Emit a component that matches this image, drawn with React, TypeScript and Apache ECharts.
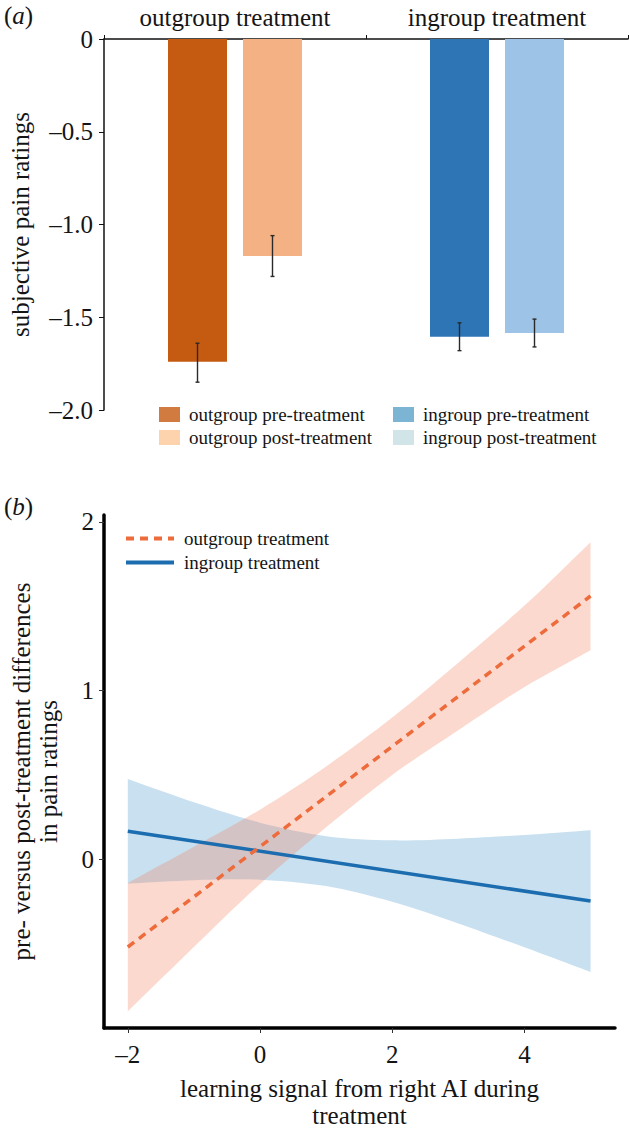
import React, { useEffect, useRef } from 'react';
import * as echarts from 'echarts';

// ---------- panel (a) data ----------
const groups = ['outgroup treatment', 'ingroup treatment'];
const preMeans = [-1.74, -1.605];
const postMeans = [-1.17, -1.585];
const preErrLow = [-1.85, -1.68];
const preErrHigh = [-1.64, -1.53];
const postErrLow = [-1.28, -1.66];
const postErrHigh = [-1.06, -1.51];
const legendNamesA = ['outgroup pre-treatment', 'outgroup post-treatment', 'ingroup pre-treatment', 'ingroup post-treatment'];

// ---------- panel (b) data ----------
const lineNames = ['outgroup treatment', 'ingroup treatment'];
const lineX = [-2, 5];
const outLineY = [-0.52, 1.56];
const inLineY = [0.166, -0.248];
const bandX = [-2, -1, 0, 1, 2, 3, 4, 5];
const outUpper = [-0.14, 0.074, 0.294, 0.55, 0.84, 1.165, 1.503, 1.879];
const outLower = [-0.9, -0.52, -0.146, 0.19, 0.5, 0.765, 1.021, 1.239];
const inUpper = [0.476, 0.338, 0.217, 0.137, 0.112, 0.122, 0.144, 0.172];
const inLower = [-0.144, -0.124, -0.121, -0.159, -0.252, -0.38, -0.522, -0.668];
const xTicksB = [-2, 0, 2, 4];
const yTicksB = [0, 1, 2];

const F = 'Liberation Serif, serif';
const TXT = '#141414';
const BAR_W = 59;
const BAR_GAP = 16;
const BAR_OFFSET = (BAR_W + BAR_GAP) / 2;
const preColors = ['#c55a11', '#2e75b6'];
const postColors = ['#f4b183', '#9dc3e6'];
const legendColorsA = ['#c55a11', '#fbc898', '#5aa2c8', '#c5dfe4'];
const ORANGE = '#ee6b3b';
const BLUE = '#1c6db0';

const minus = (v: number, digits: number) => {
  if (v === 0) return '0';
  const s = Math.abs(v).toFixed(digits);
  return v < 0 ? '\u2013' + s : s;
};

function bandSeries(lower: number[], upper: number[], color: string, name: string): any {
  return {
    name,
    type: 'custom',
    xAxisIndex: 1,
    yAxisIndex: 1,
    silent: true,
    clip: true,
    z: 2,
    data: bandX.map((x, i) => [x, lower[i], upper[i]]),
    encode: { x: 0, y: [1, 2] },
    renderItem: (params: any, api: any) => {
      if (params.dataIndex !== 0) return { type: 'group', children: [] };
      const up = bandX.map((x, i) => api.coord([x, upper[i]]));
      const lo = bandX.map((x, i) => api.coord([x, lower[i]])).reverse();
      const pts = [up[0], ...up, up[up.length - 1], lo[0], ...lo, lo[lo.length - 1]];
      return {
        type: 'polygon',
        shape: { points: pts, smooth: 0.3 },
        style: { fill: color, stroke: 'none' },
      };
    },
  };
}

function buildOption(): any {
  const errData = [
    ...preErrLow.map((lo, i) => [i, lo, preErrHigh[i], -1]),
    ...postErrLow.map((lo, i) => [i, lo, postErrHigh[i], 1]),
  ];

  return {
    animation: false,
    backgroundColor: '#ffffff',
    textStyle: { fontFamily: F, color: TXT },
    grid: [
      { left: 100, top: 39, width: 528, height: 371 },
      { left: 97, top: 515, width: 518, height: 513 },
    ],
    xAxis: [
      {
        gridIndex: 0,
        type: 'category',
        position: 'top',
        data: groups,
        axisLine: { onZero: false, lineStyle: { color: '#111', width: 1.5 } },
        axisTick: { show: true, length: 4, lineStyle: { color: '#111', width: 1 } },
        axisLabel: { fontSize: 25, color: TXT, fontFamily: F, margin: 9 },
        splitLine: { show: false },
      },
      {
        gridIndex: 1,
        type: 'value',
        min: -2.36,
        max: 5.37,
        axisLine: { show: true, onZero: false, lineStyle: { color: '#000', width: 3.5 } },
        axisTick: { show: true, customValues: xTicksB, length: 5, lineStyle: { color: '#333', width: 1 } },
        axisLabel: {
          customValues: xTicksB,
          formatter: (v: number) => minus(v, 0),
          fontSize: 25,
          color: TXT,
          fontFamily: F,
          margin: 14,
        },
        splitLine: { show: false },
        name: 'learning signal from right AI during\ntreatment',
        nameLocation: 'middle',
        nameGap: 47,
        nameTextStyle: { fontSize: 25, lineHeight: 27, color: TXT, fontFamily: F },
      },
    ],
    yAxis: [
      {
        gridIndex: 0,
        type: 'value',
        min: -2,
        max: 0,
        interval: 0.5,
        axisLine: { show: true, onZero: false, lineStyle: { color: '#111', width: 1.5 } },
        axisTick: { show: true, length: 5, lineStyle: { color: '#111', width: 1 } },
        axisLabel: { formatter: (v: number) => minus(v, 1), fontSize: 25, color: TXT, fontFamily: F, margin: 11 },
        splitLine: { show: false },
        name: 'subjective pain ratings',
        nameLocation: 'middle',
        nameGap: 71,
        nameTextStyle: { fontSize: 25, color: TXT, fontFamily: F },
      },
      {
        gridIndex: 1,
        type: 'value',
        min: -1.0,
        max: 2.04,
        axisLine: { show: true, onZero: false, lineStyle: { color: '#000', width: 3.5 } },
        axisTick: { show: true, customValues: yTicksB, length: 5, lineStyle: { color: '#333', width: 1 } },
        axisLabel: {
          customValues: yTicksB,
          formatter: (v: number) => minus(v, 0),
          fontSize: 25,
          color: TXT,
          fontFamily: F,
          margin: 10,
        },
        splitLine: { show: false },
        name: 'pre- versus post-treatment differences\nin pain ratings',
        nameLocation: 'middle',
        nameGap: 42,
        nameTextStyle: { fontSize: 25, lineHeight: 27, color: TXT, fontFamily: F },
      },
    ],
    legend: [
      {
        data: legendNamesA.slice(0, 2),
        left: 154,
        top: 400,
        orient: 'vertical',
        icon: 'rect',
        itemWidth: 21,
        itemHeight: 15,
        itemGap: 4,
        selectedMode: false,
        textStyle: { fontSize: 19, fontFamily: F, color: TXT, padding: [0, 0, 0, 4] },
      },
      {
        data: legendNamesA.slice(2, 4),
        left: 388,
        top: 400,
        orient: 'vertical',
        icon: 'rect',
        itemWidth: 21,
        itemHeight: 15,
        itemGap: 4,
        selectedMode: false,
        textStyle: { fontSize: 19, fontFamily: F, color: TXT, padding: [0, 0, 0, 4] },
      },
      {
        data: lineNames,
        left: 119,
        top: 524,
        orient: 'vertical',
        itemWidth: 48,
        itemHeight: 14,
        itemGap: 5,
        selectedMode: false,
        itemStyle: { opacity: 0 },
        lineStyle: { width: 4 },
        textStyle: { fontSize: 19, fontFamily: F, color: TXT, padding: [0, 0, 0, 5] },
      },
    ],
    graphic: [
      {
        type: 'text',
        left: 4,
        top: 3,
        style: {
          text: '{n|(}{i|a}{n|)}',
          rich: {
            n: { fontSize: 25, fontFamily: F, fill: TXT },
            i: { fontSize: 25, fontFamily: F, fontStyle: 'italic', fill: TXT },
          },
        },
      },
      {
        type: 'text',
        left: 4,
        top: 494,
        style: {
          text: '{n|(}{i|b}{n|)}',
          rich: {
            n: { fontSize: 25, fontFamily: F, fill: TXT },
            i: { fontSize: 25, fontFamily: F, fontStyle: 'italic', fill: TXT },
          },
        },
      },
    ],
    series: [
      {
        name: 'pre',
        type: 'bar',
        xAxisIndex: 0,
        yAxisIndex: 0,
        barWidth: BAR_W,
        barGap: (BAR_GAP / BAR_W) * 100 + '%',
        data: preMeans.map((v, i) => ({ value: v, itemStyle: { color: preColors[i] } })),
      },
      {
        name: 'post',
        type: 'bar',
        xAxisIndex: 0,
        yAxisIndex: 0,
        barWidth: BAR_W,
        barGap: (BAR_GAP / BAR_W) * 100 + '%',
        data: postMeans.map((v, i) => ({ value: v, itemStyle: { color: postColors[i] } })),
      },
      {
        name: 'error bars',
        type: 'custom',
        xAxisIndex: 0,
        yAxisIndex: 0,
        encode: { x: 0, y: [1, 2] },
        z: 5,
        data: errData,
        renderItem: (params: any, api: any) => {
          const cat = api.value(0);
          const lo = api.value(1);
          const hi = api.value(2);
          const side = api.value(3);
          const a = api.coord([cat, lo]);
          const b = api.coord([cat, hi]);
          const x = a[0] + side * BAR_OFFSET;
          const st = { stroke: '#2a2a2a', lineWidth: 1.4 };
          const cap = 2;
          return {
            type: 'group',
            children: [
              { type: 'line', shape: { x1: x, y1: a[1], x2: x, y2: b[1] }, style: st },
              { type: 'line', shape: { x1: x - cap, y1: a[1], x2: x + cap, y2: a[1] }, style: st },
              { type: 'line', shape: { x1: x - cap, y1: b[1], x2: x + cap, y2: b[1] }, style: st },
            ],
          };
        },
      },
      ...legendNamesA.map((n, i) => ({
        name: n,
        type: 'scatter',
        xAxisIndex: 0,
        yAxisIndex: 0,
        data: [],
        itemStyle: { color: legendColorsA[i] },
      })),
      bandSeries(inLower, inUpper, 'rgba(72,152,202,0.3)', 'ingroup band'),
      bandSeries(outLower, outUpper, 'rgba(242,128,95,0.3)', 'outgroup band'),
      {
        name: lineNames[1],
        type: 'line',
        xAxisIndex: 1,
        yAxisIndex: 1,
        symbol: 'none',
        lineStyle: { color: BLUE, width: 3.5, type: 'solid' },
        itemStyle: { color: BLUE },
        data: lineX.map((x, i) => [x, inLineY[i]]),
        z: 4,
      },
      {
        name: lineNames[0],
        type: 'line',
        xAxisIndex: 1,
        yAxisIndex: 1,
        symbol: 'none',
        lineStyle: { color: ORANGE, width: 3.5, type: [8, 6] },
        itemStyle: { color: ORANGE },
        data: lineX.map((x, i) => [x, outLineY[i]]),
        z: 5,
      },
    ],
  };
}

export default function App() {
  const ref = useRef<HTMLDivElement>(null);
  useEffect(() => {
    const chart = echarts.init(ref.current as HTMLDivElement, null, { renderer: 'svg' });
    chart.setOption(buildOption());
    return () => chart.dispose();
  }, []);
  return (
    <div
      ref={ref}
      style={{ position: 'absolute', left: 0, top: 0, width: 629, height: 1131, background: '#fff' }}
    />
  );
}
